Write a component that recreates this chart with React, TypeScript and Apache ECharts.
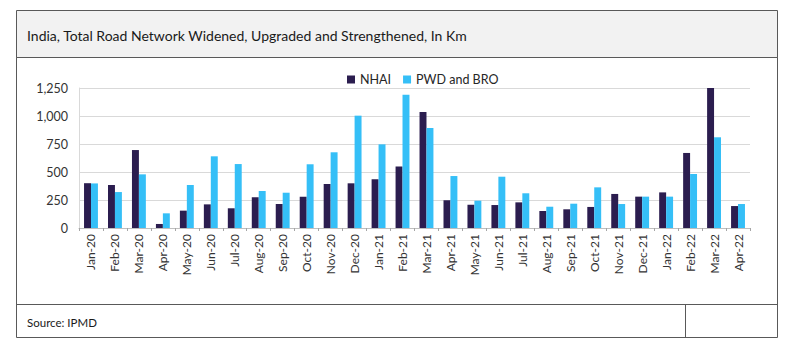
import React, { useEffect, useRef } from "react";
import * as echarts from "echarts";

const categories = [
  "Jan-20", "Feb-20", "Mar-20", "Apr-20", "May-20", "Jun-20", "Jul-20", "Aug-20", "Sep-20", "Oct-20",
  "Nov-20", "Dec-20", "Jan-21", "Feb-21", "Mar-21", "Apr-21", "May-21", "Jun-21", "Jul-21", "Aug-21",
  "Sep-21", "Oct-21", "Nov-21", "Dec-21", "Jan-22", "Feb-22", "Mar-22", "Apr-22",
];
const nhai = [400, 384, 696, 36, 155, 211, 176, 274, 214, 280, 393, 399, 435, 548, 1036, 247, 208, 205, 229, 152, 167, 188, 304, 280, 318, 670, 1250, 196];
const pwdBro = [398, 321, 479, 131, 384, 640, 571, 330, 315, 569, 676, 1003, 747, 1190, 893, 464, 244, 458, 310, 190, 217, 363, 214, 280, 280, 482, 810, 214];
const yTicks = [0, 250, 500, 750, 1000, 1250];

const FONT = "Lato, 'Noto Sans', sans-serif";

export default function App() {
  const ref = useRef<HTMLDivElement>(null);
  useEffect(() => {
    if (!ref.current) return;
    const chart = echarts.init(ref.current, null, { renderer: "svg" });
    chart.setOption({
      animation: false,
      backgroundColor: "#ffffff",
      textStyle: { fontFamily: FONT },
      graphic: [
        { type: "rect", shape: { x: 16.5, y: 10.5, width: 761, height: 47 }, style: { fill: "#f2f2f2", stroke: "#595959", lineWidth: 1 }, z: 0 },
        { type: "rect", shape: { x: 16.5, y: 57.5, width: 761, height: 280 }, style: { fill: "none", stroke: "#595959", lineWidth: 1 }, z: 0 },
        { type: "line", shape: { x1: 16.5, y1: 304.5, x2: 777.5, y2: 304.5 }, style: { stroke: "#595959", lineWidth: 1 }, z: 0 },
        { type: "line", shape: { x1: 685.5, y1: 304.5, x2: 685.5, y2: 337.5 }, style: { stroke: "#595959", lineWidth: 1 }, z: 0 },
        { type: "text", x: 27, y: 35, style: { text: "India, Total Road Network Widened, Upgraded and Strengthened, In Km", fill: "#1a1a1a", font: `14px ${FONT}`, verticalAlign: "middle" }, z: 5 },
        { type: "text", x: 27, y: 322, style: { text: "Source: IPMD", fill: "#1a1a1a", font: `11.5px ${FONT}`, verticalAlign: "middle" }, z: 5 },
      ],
      legend: {
        top: 68,
        left: 342,
        itemWidth: 8,
        itemHeight: 8,
        itemGap: 12,
        icon: "rect",
        textStyle: { fontSize: 12.5, color: "#262626", fontFamily: FONT },
        data: ["NHAI", "PWD and BRO"],
      },
      grid: { left: 79, right: 50, top: 88, bottom: 125, containLabel: false },
      xAxis: {
        type: "category",
        data: categories,
        axisLine: { lineStyle: { color: "#bfbfbf" } },
        axisTick: { show: true, length: 3, lineStyle: { color: "#a6a6a6" } },
        axisLabel: { rotate: 90, fontSize: 12, color: "#333333", margin: 6, fontFamily: FONT, interval: 0 },
      },
      yAxis: {
        type: "value",
        min: 0,
        max: 1250,
        interval: 250,
        axisLine: { show: true, lineStyle: { color: "#d9d9d9" } },
        axisTick: { show: false },
        splitLine: { lineStyle: { color: "#d9d9d9" } },
        axisLabel: {
          fontSize: 12.5,
          color: "#333333",
          margin: 11,
          fontFamily: FONT,
          formatter: (v: number) => (yTicks.includes(v) ? v.toLocaleString("en-US") : ""),
        },
      },
      series: [
        { name: "NHAI", type: "bar", data: nhai, itemStyle: { color: "#2b1d4f" }, barGap: "0%", barCategoryGap: "42%" },
        { name: "PWD and BRO", type: "bar", data: pwdBro, itemStyle: { color: "#35bff7" }, barGap: "0%", barCategoryGap: "42%" },
      ],
    });
    return () => chart.dispose();
  }, []);
  return <div ref={ref} style={{ position: "fixed", left: 0, top: 0, width: 800, height: 353 }} />;
}
